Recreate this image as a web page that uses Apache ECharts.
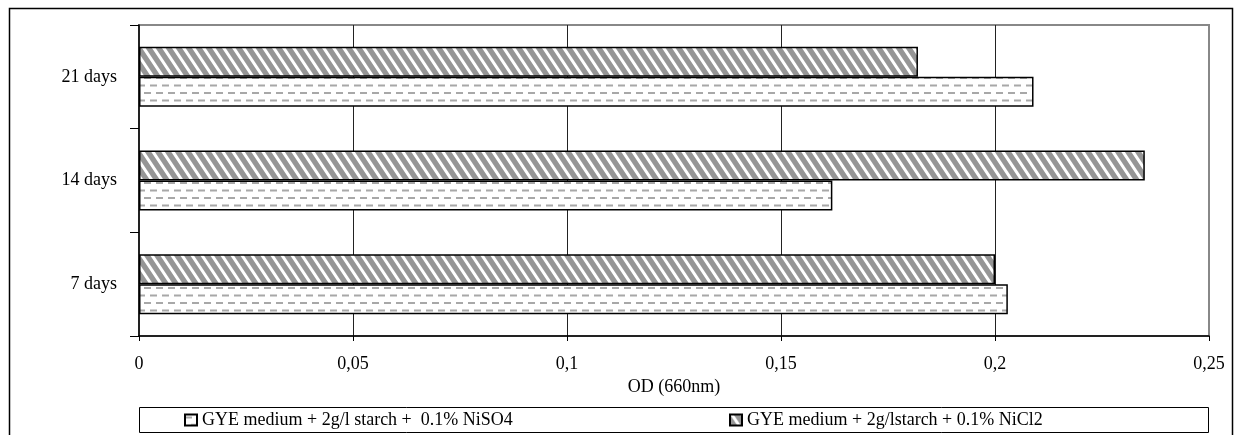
<!DOCTYPE html>
<html>
<head>
<meta charset="utf-8">
<script src="https://cdn.jsdelivr.net/npm/echarts@6/dist/echarts.min.js"></script>
<style>
html,body{margin:0;padding:0;background:#fff;}
#chart{width:1240px;height:435px;}
</style>
</head>
<body>
<div id="chart"></div>
<script>
// ---- data ----
const categories = ['7 days', '14 days', '21 days'];
const seriesNames = ['GYE medium + 2g/l starch +  0.1% NiSO4', 'GYE medium + 2g/lstarch + 0.1% NiCl2'];
const niSO4 = [0.203, 0.162, 0.209];
const niCl2 = [0.200, 0.235, 0.182];
const xTicks = { min: 0, max: 0.25, interval: 0.05 };
const xAxisTitle = 'OD (660nm)';

// ---- patterns ----
function stripeTile() {
  const W = 30, H = 45, c = document.createElement('canvas');
  c.width = W; c.height = H;
  const ctx = c.getContext('2d');
  const img = ctx.createImageData(W, H);
  const gray = 150, S = 4;
  for (let y = 0; y < H; y++) {
    for (let x = 0; x < W; x++) {
      let acc = 0;
      for (let sy = 0; sy < S; sy++) for (let sx = 0; sx < S; sx++) {
        const fx = x + (sx + 0.5) / S, fy = y + (sy + 0.5) / S;
        let ph = (fx - fy * 2 / 3) % 10; if (ph < 0) ph += 10;
        acc += ph < 3.6 ? 255 : gray;
      }
      const v = Math.round(acc / (S * S)), i = (y * W + x) * 4;
      img.data[i] = img.data[i + 1] = img.data[i + 2] = v; img.data[i + 3] = 255;
    }
  }
  ctx.putImageData(img, 0, 0);
  return c;
}
function dashTile() {
  const W = 12, H = 15, c = document.createElement('canvas');
  c.width = W; c.height = H;
  const ctx = c.getContext('2d');
  ctx.fillStyle = '#fff'; ctx.fillRect(0, 0, W, H);
  ctx.fillStyle = '#a8a8a8';
  ctx.fillRect(0, 2, 7, 2);
  ctx.fillRect(6, 9.5, 6, 2); ctx.fillRect(0, 9.5, 1, 2);
  return c;
}
const stripePattern = { image: stripeTile(), repeat: 'repeat' };
const dashPattern = { image: dashTile(), repeat: 'repeat' };

const FONT = "'Liberation Serif', 'Times New Roman', serif";
const chart = echarts.init(document.getElementById('chart'), null, { renderer: 'canvas' });

const legendCommon = {
  top: 411, padding: 0, icon: 'rect', itemWidth: 12, itemHeight: 11, itemGap: 10,
  textStyle: { fontFamily: FONT, fontSize: 18, color: '#000', padding: [0, 0, 0, 0] },
  selectedMode: false
};

chart.setOption({
  animation: false,
  backgroundColor: '#fff',
  textStyle: { fontFamily: FONT },
  grid: { left: 139, right: 31, top: 25, bottom: 99, show: true, borderColor: '#888', borderWidth: 2, containLabel: false },
  xAxis: {
    type: 'value', min: xTicks.min, max: xTicks.max, interval: xTicks.interval,
    name: xAxisTitle, nameLocation: 'middle', nameGap: 35,
    nameTextStyle: { fontFamily: FONT, fontSize: 18, color: '#000' },
    axisLine: { show: true, lineStyle: { color: '#000', width: 1.5 } },
    axisTick: { show: true, length: 5, lineStyle: { color: '#000', width: 1 } },
    axisLabel: { margin: 19, fontFamily: FONT, fontSize: 18, color: '#000',
      formatter: v => String(Math.round(v * 100) / 100).replace('.', ',') },
    splitLine: { show: true, showMinLine: false, showMaxLine: false, lineStyle: { color: '#222', width: 1 } }
  },
  yAxis: {
    type: 'category', data: categories,
    axisLine: { show: true, lineStyle: { color: '#000', width: 1.5 } },
    axisTick: { show: true, length: 9, alignWithLabel: false, lineStyle: { color: '#000', width: 1 } },
    axisLabel: { margin: 22, fontFamily: FONT, fontSize: 18, color: '#000' },
    splitLine: { show: false }
  },
  legend: [
    Object.assign({}, legendCommon, { left: 184, data: [seriesNames[0]] }),
    Object.assign({}, legendCommon, { left: 729, data: [seriesNames[1]] })
  ],
  graphic: [
    { type: 'rect', silent: true, z: -1, shape: { x: 9.5, y: 8.5, width: 1223, height: 460 },
      style: { fill: 'none', stroke: '#000', lineWidth: 1.5 } },
    { type: 'rect', silent: true, z: 0, shape: { x: 139.5, y: 407.5, width: 1069, height: 25 },
      style: { fill: 'none', stroke: '#000', lineWidth: 1 } }
  ],
  series: [
    { name: seriesNames[1], type: 'bar', data: niCl2, barWidth: 30, barGap: '0%',
      itemStyle: { color: stripePattern, borderColor: '#000', borderWidth: 1.5 } },
    { name: seriesNames[0], type: 'bar', data: niSO4, barWidth: 30, barGap: '0%',
      itemStyle: { color: dashPattern, borderColor: '#000', borderWidth: 1.5 } }
  ]
});
</script>
</body>
</html>
